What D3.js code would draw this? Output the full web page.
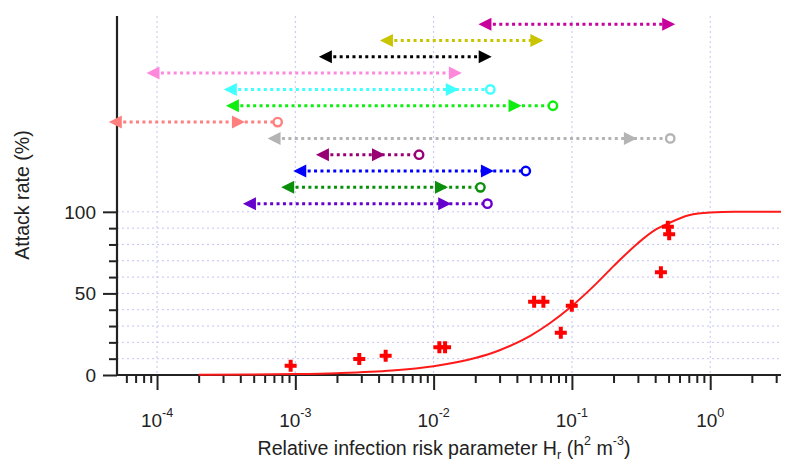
<!DOCTYPE html>
<html>
<head>
<meta charset="utf-8">
<script src="https://cdn.jsdelivr.net/npm/d3@7"></script>
<style>
  body { margin: 0; background: #fff; }
  text { font-family: "Liberation Sans", Arial, sans-serif; fill: #222; }
</style>
</head>
<body>
<div class="attack_chart"></div>
<script>
// measured outbreaks (Hr, attack rate %)
var hr_values = [9.25e-4, 2.9e-3, 4.5e-3, 0.0110, 0.0121, 0.0533, 0.0622, 0.0831, 0.0998, 0.440, 0.494, 0.505];
var attack_rates = [5.7, 9.8, 11.8, 17.0, 17.0, 44.9, 44.9, 25.9, 42.4, 62.9, 90.8, 86.3];

// fitted curve
var curve_hr = [2e-4, 5e-4, 1e-3, 2e-3, 5e-3, 1e-2, 2e-2, 3e-2, 5e-2, 7e-2, 0.1, 0.15, 0.2, 0.3, 0.4, 0.5, 0.7, 1, 1.5, 3.25];
var curve_rate = [0.11, 0.27, 0.55, 1.1, 2.7, 5.4, 10.4, 15.2, 24, 32, 42.3, 56, 66.7, 80.8, 88.9, 93, 97.9, 99.6, 100, 100];

// ranges drawn as arrows above the plot (top row first)
var interval_row = [215, 205, 195, 185, 175, 165, 155, 145, 135, 125, 115, 105];
var interval_lo = [0.0211, 0.00409, 0.00148, 8.39e-5, 3.04e-4, 3.15e-4, 4.48e-5, 6.3e-4, 1.41e-3, 9.66e-4, 7.9e-4, 4.18e-4];
var interval_hi = [0.558, 0.0622, 0.0263, 0.0160, 0.0152, 0.0432, 4.32e-4, 0.295, 4.45e-3, 0.0273, 0.0127, 0.0134];
var interval_end = [null, null, null, null, 0.0257, 0.0729, 7.45e-4, 0.514, 7.85e-3, 0.0464, 0.0218, 0.0245];
var interval_color = ["#c8009c", "#c8c400", "#000000", "#ff88dd", "#40ffff", "#10ee10",
                      "#ff7f7f", "#b4b4b4", "#990073", "#0000ff", "#0a8f0a", "#6600cc"];

// axis ticks
var y_major = [0, 50, 100];
var y_minor = [10, 20, 30, 40, 60, 70, 80, 90];
var x_decades = [-4, -3, -2, -1, 0];

var width = 787, height = 466;
var margin_px = { top: 16, left: 117, right: 6, bottom: 91 };
var inner_width = width - margin_px.left - margin_px.right;
var inner_height = height - margin_px.top - margin_px.bottom;
var axis_color = "#222";
var grid_color = "#c4c4f4";

var svg = d3.select(".attack_chart").append("svg")
  .attr("width", width)
  .attr("height", height);

var g = svg.append("g")
  .attr("transform", "translate(" + margin_px.left + "," + margin_px.top + ")");

var x_scale = d3.scaleLog()
  .domain([5.135e-5, 3.25])
  .range([0, inner_width]);

var y_scale = d3.scaleLinear()
  .domain([0, 220])
  .range([inner_height, 0]);

// minor decade ticks 2..9
var x_minor = [];
x_decades.concat([-5]).forEach(function (e) {
  for (var m = 2; m <= 9; m++) {
    var v = m * Math.pow(10, e);
    if (v > x_scale.domain()[0] && v < x_scale.domain()[1]) x_minor.push(v);
  }
});

// grid
g.selectAll(".vgrid")
  .data(x_decades)
  .enter()
  .append("line")
    .attr("class", "vgrid")
    .attr("x1", d => x_scale(Math.pow(10, d)))
    .attr("x2", d => x_scale(Math.pow(10, d)))
    .attr("y1", 0)
    .attr("y2", inner_height)
    .attr("stroke", grid_color)
    .attr("stroke-dasharray", "2,3");

g.selectAll(".hgrid")
  .data(y_major.concat(y_minor).filter(d => d > 0))
  .enter()
  .append("line")
    .attr("class", "hgrid")
    .attr("x1", 0)
    .attr("x2", inner_width)
    .attr("y1", d => y_scale(d))
    .attr("y2", d => y_scale(d))
    .attr("stroke", grid_color)
    .attr("stroke-dasharray", "2,3");

// axes
var x_axis_g = g.append("g").attr("transform", "translate(0," + inner_height + ")");
x_axis_g.call(d3.axisBottom(x_scale).tickValues(x_minor).tickSize(8).tickFormat(""));
var x_major_g = g.append("g").attr("transform", "translate(0," + inner_height + ")");
x_major_g.call(d3.axisBottom(x_scale).tickValues(x_decades.map(d => Math.pow(10, d))).tickSize(15).tickFormat(""));

var y_axis_g = g.append("g");
y_axis_g.call(d3.axisLeft(y_scale).tickValues(y_minor).tickSize(8).tickFormat(""));
var y_major_g = g.append("g");
y_major_g.call(d3.axisLeft(y_scale).tickValues(y_major).tickSize(14).tickFormat(""));

[x_axis_g, x_major_g, y_axis_g, y_major_g].forEach(function (a) {
  a.selectAll(".domain").remove();
  a.selectAll(".tick line").attr("stroke", axis_color).attr("stroke-width", 2);
});

g.append("line")
  .attr("x1", 0).attr("x2", 0)
  .attr("y1", 0).attr("y2", inner_height + 1)
  .attr("stroke", axis_color).attr("stroke-width", 2.2);
g.append("line")
  .attr("x1", -1).attr("x2", inner_width)
  .attr("y1", inner_height).attr("y2", inner_height)
  .attr("stroke", axis_color).attr("stroke-width", 2.2);

// tick labels
g.selectAll(".ylab")
  .data(y_major)
  .enter()
  .append("text")
    .attr("x", -21)
    .attr("y", d => y_scale(d))
    .attr("dy", "0.36em")
    .attr("text-anchor", "end")
    .attr("font-size", 19)
    .text(d => d);

var xlab = g.selectAll(".xlab")
  .data(x_decades)
  .enter()
  .append("text")
    .attr("x", d => x_scale(Math.pow(10, d)))
    .attr("y", inner_height + 52)
    .attr("text-anchor", "middle")
    .attr("font-size", 19);
xlab.append("tspan").text("10");
xlab.append("tspan")
  .attr("dy", -10)
  .attr("font-size", 12.5)
  .text(d => d < 0 ? "-" + (-d) : "" + d);

// titles
var x_title = svg.append("text")
  .attr("x", 444)
  .attr("y", 455)
  .attr("text-anchor", "middle")
  .attr("font-size", 19.6);
x_title.append("tspan").text("Relative infection risk parameter H");
x_title.append("tspan").attr("dy", 4).attr("font-size", 12.5).text("r");
x_title.append("tspan").attr("dy", -4).text(" (h");
x_title.append("tspan").attr("dy", -10).attr("font-size", 12.5).text("2");
x_title.append("tspan").attr("dy", 10).text(" m");
x_title.append("tspan").attr("dy", -10).attr("font-size", 12.5).text("-3");
x_title.append("tspan").attr("dy", 10).text(")");

svg.append("text")
  .attr("transform", "translate(29,195) rotate(-90)")
  .attr("text-anchor", "middle")
  .attr("font-size", 19.6)
  .text("Attack rate (%)");

// interval arrows
var intervals = interval_row.map(function (r, i) {
  return { row: r, lo: interval_lo[i], hi: interval_hi[i], end: interval_end[i], color: interval_color[i] };
});

var arrows = g.selectAll(".interval")
  .data(intervals)
  .enter()
  .append("g")
    .attr("class", "interval");

arrows.append("line")
  .attr("x1", d => x_scale(d.lo) + 8)
  .attr("x2", d => x_scale(d.end || d.hi) - (d.end ? 3 : 8))
  .attr("y1", d => y_scale(d.row))
  .attr("y2", d => y_scale(d.row))
  .attr("stroke", d => d.color)
  .attr("stroke-width", 3)
  .attr("stroke-dasharray", "3,3.4");

var head_len = 13, head_half = 6.5;
arrows.append("path")
  .attr("fill", d => d.color)
  .attr("d", function (d) {
    var x = x_scale(d.lo), y = y_scale(d.row);
    return "M" + x + "," + y + "L" + (x + head_len) + "," + (y - head_half) + "L" + (x + head_len) + "," + (y + head_half) + "Z";
  });
arrows.append("path")
  .attr("fill", d => d.color)
  .attr("d", function (d) {
    var x = x_scale(d.hi), y = y_scale(d.row);
    return "M" + x + "," + y + "L" + (x - head_len) + "," + (y - head_half) + "L" + (x - head_len) + "," + (y + head_half) + "Z";
  });
arrows.filter(d => d.end)
  .append("circle")
    .attr("cx", d => x_scale(d.end))
    .attr("cy", d => y_scale(d.row))
    .attr("r", 4.2)
    .attr("fill", "#fff")
    .attr("stroke", d => d.color)
    .attr("stroke-width", 2.4);

// fitted curve
var curve_data = curve_hr.map((h, i) => ({ hr: h, rate: curve_rate[i] }));
var line = d3.line()
  .x(d => x_scale(d.hr))
  .y(d => y_scale(d.rate))
  .curve(d3.curveMonotoneX);
g.append("path")
  .datum(curve_data)
  .attr("d", line)
  .attr("fill", "none")
  .attr("stroke", "#ff1a1a")
  .attr("stroke-width", 2);

// measured points
var points = hr_values.map((h, i) => ({ hr: h, rate: attack_rates[i] }));
g.selectAll(".pt")
  .data(points)
  .enter()
  .append("path")
    .attr("class", "pt")
    .attr("transform", d => "translate(" + x_scale(d.hr) + "," + y_scale(d.rate) + ")")
    .attr("d", d3.symbol().type(d3.symbolCross).size(80))
    .attr("fill", "#ff0000");
</script>
</body>
</html>
